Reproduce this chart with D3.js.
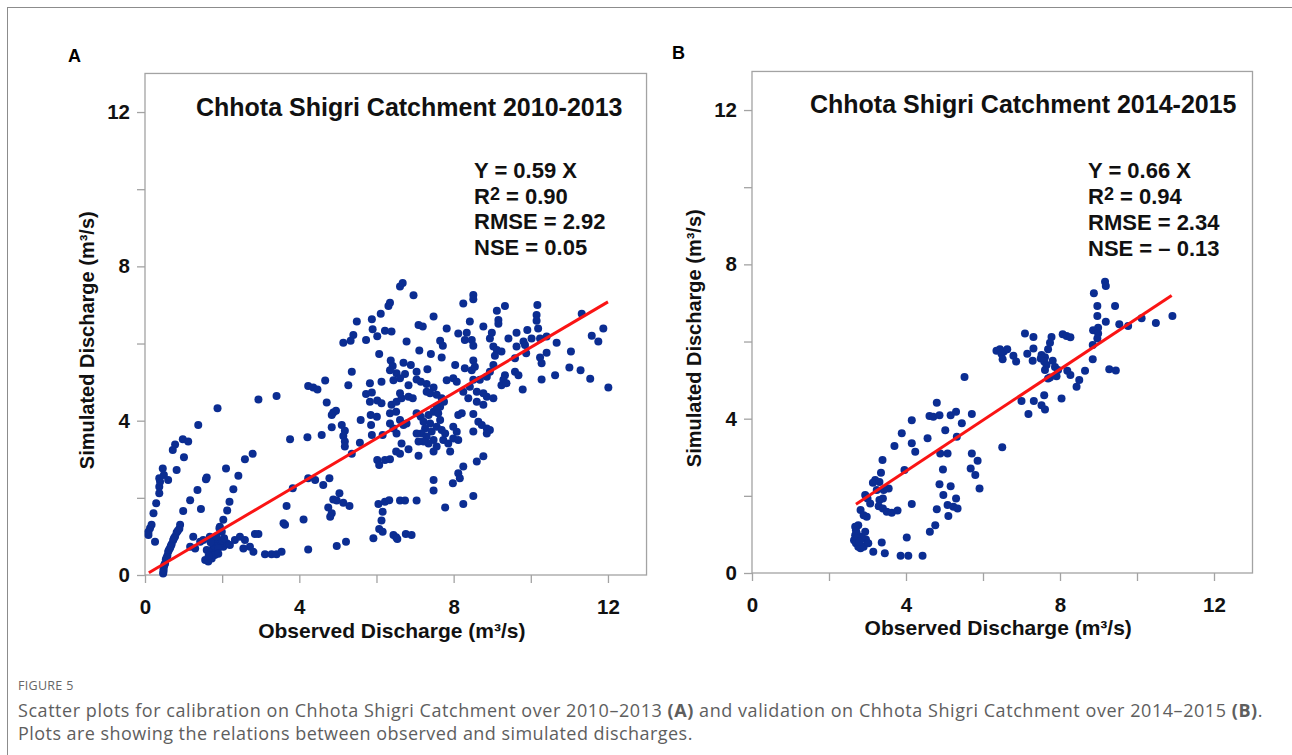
<!DOCTYPE html>
<html>
<head>
<meta charset="utf-8">
<script src="https://cdn.jsdelivr.net/npm/d3@7"></script>
<style>
  body { margin: 0; background: #fff; }
  svg { display: block; }
</style>
</head>
<body>
<svg id="fig" width="1292" height="755"></svg>
<script>
// Observed vs simulated discharge, m³/s  — [observed, simulated]
const calibrationPoints = [
  [0.09,1.04],[0.13,1.21],[0.17,1.30],[0.22,1.60],[0.29,1.86],[0.37,2.12],[0.37,2.29],[0.39,2.42],[0.37,2.51],[0.46,2.76],
  [0.49,2.59],[0.60,2.46],[0.82,2.72],[0.72,3.24],[0.78,3.38],[0.98,3.52],[1.12,3.46],[1.01,3.05],[1.38,3.89],[1.88,4.32],
  [2.94,4.55],[3.41,4.64],[3.76,3.52],[2.79,3.14],[2.59,3.00],[2.10,2.76],[2.42,2.57],[2.29,2.22],[2.19,1.90],[2.13,1.67],
  [2.03,1.43],[1.94,1.25],[0.26,0.86],[0.09,1.12],
  [0.48,0.09],[0.49,0.22],[0.52,0.30],[0.54,0.40],[0.58,0.50],[0.60,0.60],[0.65,0.70],[0.69,0.80],[0.73,0.90],[0.78,1.00],
  [0.82,1.10],[0.89,1.20],[0.91,1.30],[0.99,1.66],[1.17,1.94],[1.36,2.20],[1.58,2.48],[1.60,2.53],[1.45,1.71],[0.47,0.04],
  [0.48,0.15],[0.50,0.26],[0.56,0.45],[0.62,0.65],[0.67,0.75],[0.75,0.95],[0.85,1.15],
  [1.25,0.99],[1.51,0.91],[1.68,0.99],[1.86,0.91],[1.94,0.82],[1.77,0.73],[1.60,0.65],[1.73,0.60],[1.86,0.65],[2.03,0.73],
  [2.12,0.82],[2.20,0.78],[2.33,0.91],[2.46,0.99],[2.59,0.91],[2.72,0.73],[2.85,1.06],[2.94,1.06],[2.55,0.69],[2.81,0.60],
  [3.11,0.54],[3.28,0.54],[3.41,0.54],[3.54,0.60],[1.56,0.39],[1.64,0.35],[1.73,0.43],[1.81,0.52],[1.99,1.12],[1.93,1.21],
  [1.43,0.86],[1.17,0.73],[1.30,0.69],[1.80,0.75],[1.90,0.70],[2.00,0.90],[1.70,0.85],[1.85,1.00],[2.05,0.95],[1.65,0.50],
  [1.90,0.55],[3.67,1.79],[3.83,2.25],[3.63,1.30],[3.59,1.34],
  [6.35,7.06],[6.31,6.97],[6.11,6.77],[5.88,6.63],[5.49,6.57],[7.48,6.70],[7.09,6.48],[7.20,6.44],[7.82,6.39],[8.12,6.26],
  [5.90,6.37],[6.22,6.33],[6.39,6.31],[5.40,6.22],[5.33,6.07],[5.14,6.02],[5.73,6.09],[6.02,6.19],[6.78,6.05],[7.65,6.07],
  [7.72,5.94],[7.11,5.82],[7.41,5.73],[7.69,5.64],[6.07,5.73],[6.37,5.56],[6.42,5.42],[6.70,5.50],[6.89,5.44],[7.32,5.33],
  [7.04,5.27],[8.04,5.44],[6.35,5.31],[6.52,5.23],[6.74,5.21],[5.36,5.27],[4.67,5.04],[4.23,4.90],[4.36,4.86],[4.47,4.81],
  [5.27,4.92],[5.83,4.97],[6.13,5.01],[6.44,5.05],[6.61,5.10],[7.04,5.07],[7.15,5.01],[7.30,4.95],[7.48,4.86],[7.82,5.05],
  [7.99,5.10],[8.08,5.01],[5.73,4.69],[5.88,4.73],[6.02,4.52],[6.13,4.45],[5.83,4.49],[6.39,4.41],[6.52,4.49],[6.65,4.58],
  [6.83,4.62],[6.94,4.58],[6.61,4.71],[6.83,4.92],[7.30,4.75],[7.39,4.71],[7.56,4.67],[7.69,4.58],[7.75,4.49],[7.65,4.36],
  [4.71,4.47],[4.88,4.21],[4.95,4.26],[4.84,4.15],[5.59,4.02],[5.85,4.15],[6.01,4.10],[5.86,3.89],[5.10,3.89],[4.84,3.83],
  [5.18,3.74],[5.14,3.60],[5.18,3.46],[5.18,3.33],[5.57,3.43],[5.36,3.14],[4.21,3.57],[4.58,3.63],
  [7.04,4.19],[7.15,4.10],[7.22,3.97],[7.35,4.15],[7.48,4.23],[7.56,4.36],[7.60,4.19],[7.65,4.02],[7.39,3.93],[7.26,3.80],
  [7.17,3.67],[7.30,3.59],[7.43,3.72],[7.56,3.84],[7.69,3.76],[7.78,3.67],[7.48,3.50],[7.35,3.41],[7.22,3.46],[7.04,3.67],
  [7.09,3.46],[7.48,3.20],[7.56,3.33],[7.73,3.50],[7.86,3.41],[7.91,3.20],[7.99,3.84],[7.99,3.54],[8.08,3.71],[8.12,4.15],
  [6.35,3.93],[6.44,3.80],[6.52,3.67],[6.70,3.89],[6.78,3.93],[6.61,4.02],[6.35,4.19],[6.51,4.23],[5.88,3.63],[6.16,3.63],
  [6.51,3.20],[6.61,3.14],[6.83,3.26],[6.65,3.41],[7.09,3.09],[6.02,2.98],[6.07,2.85],[6.22,2.98],[6.35,3.00],
  [4.23,2.51],[4.41,2.46],[4.62,2.33],[4.78,2.51],[7.48,2.46],[7.48,2.19],[7.98,2.38],[8.12,2.64],[5.04,2.12],[4.88,1.96],
  [4.75,1.75],[4.97,1.93],[5.14,1.87],[5.30,1.79],[4.84,1.60],[4.80,1.51],[6.05,1.84],[6.22,1.90],[6.33,1.94],[6.61,1.93],
  [6.74,1.93],[7.04,1.93],[7.78,1.75],[6.16,1.64],[6.13,1.41],[6.07,1.19],[6.16,1.12],[6.44,1.04],[6.51,0.98],[6.54,0.93],
  [6.76,1.06],[6.91,1.04],[5.92,0.95],[4.11,1.44],[4.23,0.66],[4.97,0.75],[5.21,0.86],
  [6.61,7.48],[6.68,7.57],[6.96,7.25],
  [8.51,7.26],[8.51,7.15],[8.25,7.04],[9.33,6.97],[9.12,6.85],[10.17,7.00],[10.15,6.74],[10.15,6.59],[8.42,6.57],[9.16,6.61],
  [9.16,6.51],[8.77,6.44],[8.99,6.28],[8.94,6.13],[8.34,6.28],[8.29,6.09],[8.47,6.09],[8.51,5.94],[9.42,6.13],[9.63,6.28],
  [9.91,6.35],[10.19,6.39],[10.02,6.13],[10.24,6.13],[10.41,6.18],[9.81,6.05],[9.85,5.96],[9.63,5.92],[9.03,5.92],[9.12,5.83],
  [9.24,5.79],[9.07,5.68],[10.67,6.02],[10.41,5.76],[10.24,5.64],[10.28,5.49],[9.88,5.75],[9.59,5.62],[8.51,5.56],[8.29,5.36],
  [8.47,5.31],[8.55,5.40],[9.03,5.44],[8.94,5.27],[8.86,5.14],[8.68,5.06],[9.33,5.18],[9.29,5.06],[9.24,4.92],[9.37,4.97],
  [9.59,5.27],[9.68,5.18],[10.28,5.07],[10.63,5.18],[9.79,4.81],[8.42,4.88],[8.51,5.06],[8.25,4.75],[8.38,4.58],[8.60,4.49],
  [8.77,4.41],[8.60,4.75],[8.86,4.62],[9.03,4.58],[8.77,4.71],[8.21,4.19],[8.51,4.17],[8.51,3.72],[8.64,3.97],[8.73,3.89],
  [8.86,3.80],[8.94,3.76],[8.86,3.67],[8.12,3.50],[8.60,2.94],[8.77,3.08],[8.25,2.81],[8.16,2.51],[8.51,2.05],[8.25,1.84],
  [11.32,6.77],[11.88,6.39],[11.58,6.20],[11.75,6.05],[11.04,5.79],[11.00,5.38],[11.29,5.31],[11.54,5.09],[12.01,4.86]
];

const validationPoints = [
  [4.80,4.41],[4.61,4.07],[4.71,4.05],[4.87,4.09],[5.16,4.09],[5.30,4.18],[5.71,4.12],[5.45,3.88],[5.02,3.70],[5.32,3.53],
  [4.15,3.96],[3.89,3.62],[4.56,3.49],[3.70,3.29],[4.15,3.36],[4.24,3.14],[4.89,3.10],[5.08,3.10],[5.71,3.10],[5.86,2.91],
  [3.39,2.93],[3.96,2.67],[4.96,2.68],[5.68,2.71],[5.80,2.54],[5.91,2.19],[3.35,2.60],[3.20,2.41],[3.14,2.34],[3.31,2.36],
  [3.55,2.19],[3.42,2.15],[3.24,2.15],[4.87,2.30],[5.16,2.25],[4.97,2.02],[5.30,1.93],[5.08,1.76],[5.23,1.72],[5.34,1.67],
  [4.80,1.65],[5.10,1.48],[4.76,1.24],[4.62,1.07],[4.15,1.79],[2.94,2.02],[3.00,1.93],[3.07,1.80],[3.31,1.89],[3.40,1.93],
  [3.29,1.73],[3.40,1.67],[3.50,1.59],[3.63,1.56],[3.78,1.62],[2.82,1.63],[2.90,1.50],[2.98,1.46],[2.76,1.24],[2.70,1.11],
  [2.68,0.98],[2.65,0.85],[2.70,0.77],[2.76,0.68],[2.82,0.64],[2.90,0.68],[2.96,0.87],[3.02,0.77],[2.85,0.94],[2.94,1.07],
  [3.37,0.79],[3.15,0.55],[3.45,0.51],[4.02,0.92],[3.86,0.45],[4.06,0.45],[4.43,0.45],[6.50,3.26],[2.72,1.03],[2.73,0.90],
  [2.79,0.81],[2.68,1.20],[5.52,5.08],
  [9.17,7.55],[9.19,7.44],[8.88,7.25],[8.97,6.92],[9.43,6.92],[8.97,6.66],[9.19,6.51],[9.54,6.45],[9.77,6.40],[10.12,6.60],
  [10.49,6.48],[10.92,6.66],[8.99,6.36],[8.86,6.29],[8.99,6.21],[8.97,6.08],[8.85,5.91],[8.85,5.54],[9.28,5.28],[9.45,5.25],
  [7.09,6.21],[7.31,6.12],[7.78,6.12],[7.74,5.97],[7.69,5.80],[8.07,6.19],[8.17,6.14],[8.27,6.11],[6.35,5.76],[6.44,5.80],
  [6.54,5.74],[6.63,5.80],[6.48,5.68],[6.51,5.54],[6.79,5.63],[6.86,5.48],[7.15,5.68],[7.31,5.82],[7.29,5.50],[7.52,5.65],
  [7.50,5.56],[7.61,5.59],[7.59,5.48],[7.65,5.39],[7.61,5.26],[7.81,5.50],[7.87,5.34],[7.95,5.26],[7.91,5.10],[7.74,5.07],
  [7.69,5.04],[8.19,5.24],[8.27,5.13],[8.50,5.00],[8.43,4.83],[8.65,5.24],[8.04,4.52],[7.59,4.61],[7.32,4.46],[7.00,4.46],
  [7.52,4.35],[7.61,4.24],[7.18,4.12]
];

const tickValues = [0, 2, 4, 6, 8, 10, 12];
const labelledTicks = [0, 4, 8, 12];
const axisMax = 13;

const panelLetters = ["A", "B"];
const panelTitles = ["Chhota Shigri Catchment 2010-2013", "Chhota Shigri Catchment 2014-2015"];
const fitSlopes = [0.59, 0.66];
const fitRanges = [[0.1, 12], [2.7, 10.9]];
const r2Values = ["0.90", "0.94"];
const rmseValues = ["2.92", "2.34"];
const nseValues = ["0.05", "\u2013 0.13"];

const xTitle = "Observed Discharge (m\u00b3/s)";
const yTitle = "Simulated Discharge (m\u00b3/s)";

const FONT = "'Liberation Sans', Arial, Helvetica, sans-serif";
const DOT = "#0b2d92";
const FIT = "#fa1414";
const FRAME = "#a3a3a3";

const svg = d3.select("#fig");

// outer figure box
svg.append("rect")
  .attr("x", 7.5).attr("y", 7.5)
  .attr("width", 1400).attr("height", 900)
  .attr("fill", "none").attr("stroke", "#8c8c8c").attr("stroke-width", 1);

const layout = [
  { x0: 145, y0: 575, ux: 38.58, uy: 38.58, letter: [68, 62], title: [196, 116], stats: [474, 178], statGap: 25.6, yTitleX: 94, xTitleY: 638 },
  { x0: 752, y0: 573, ux: 38.50, uy: 38.58, letter: [672, 59], title: [810, 113], stats: [1088, 178], statGap: 26, yTitleX: 701, xTitleY: 635 }
];

const datasets = [calibrationPoints, validationPoints];

layout.forEach((L, i) => {
  const g = svg.append("g");
  const x = d3.scaleLinear().domain([0, axisMax]).range([L.x0, L.x0 + axisMax * L.ux]);
  const y = d3.scaleLinear().domain([0, axisMax]).range([L.y0, L.y0 - axisMax * L.uy]);

  // axes
  const fmt = d => labelledTicks.includes(d) ? String(d) : "";
  const ax = g.append("g").attr("transform", `translate(0,${L.y0})`)
    .call(d3.axisBottom(x).tickValues(tickValues).tickSize(8).tickPadding(16).tickFormat(fmt));
  const ay = g.append("g").attr("transform", `translate(${L.x0},0)`)
    .call(d3.axisLeft(y).tickValues(tickValues).tickSize(8).tickPadding(7).tickFormat(fmt));
  [ax, ay].forEach(a => {
    a.select(".domain").remove();
    a.selectAll(".tick line").attr("stroke", FRAME).attr("stroke-width", 1.3);
    a.selectAll(".tick text").attr("fill", "#111").attr("font-family", FONT)
      .attr("font-weight", "bold").attr("font-size", 20.5);
  });

  // plot frame
  g.append("rect")
    .attr("x", x(0)).attr("y", y(axisMax))
    .attr("width", x(axisMax) - x(0)).attr("height", y(0) - y(axisMax))
    .attr("fill", "none").attr("stroke", FRAME).attr("stroke-width", 1.3);

  // points
  g.append("g").selectAll("circle").data(datasets[i]).join("circle")
    .attr("cx", d => x(d[0])).attr("cy", d => y(d[1])).attr("r", 4)
    .attr("fill", DOT);

  // regression line through the origin
  const fit = fitRanges[i].map(v => [v, fitSlopes[i] * v]);
  g.append("path")
    .attr("d", d3.line().x(d => x(d[0])).y(d => y(d[1]))(fit))
    .attr("stroke", FIT).attr("stroke-width", 3).attr("fill", "none");

  // panel letter
  g.append("text").attr("x", L.letter[0]).attr("y", L.letter[1])
    .attr("font-family", FONT).attr("font-weight", "bold").attr("font-size", 18)
    .text(panelLetters[i]);

  // title
  g.append("text").attr("x", L.title[0]).attr("y", L.title[1])
    .attr("font-family", FONT).attr("font-weight", "bold").attr("font-size", 25)
    .attr("fill", "#111").text(panelTitles[i]);

  // statistics block
  const st = g.append("g").attr("font-family", FONT).attr("font-weight", "bold")
    .attr("font-size", 22).attr("fill", "#111");
  st.append("text").attr("x", L.stats[0]).attr("y", L.stats[1])
    .text(`Y = ${fitSlopes[i].toFixed(2)} X`);
  const r2 = st.append("text").attr("x", L.stats[0]).attr("y", L.stats[1] + L.statGap);
  r2.append("tspan").text("R");
  r2.append("tspan").attr("dy", -4).attr("font-size", 18).text("2");
  r2.append("tspan").attr("dy", 4).text(` = ${r2Values[i]}`);
  st.append("text").attr("x", L.stats[0]).attr("y", L.stats[1] + 2 * L.statGap)
    .text(`RMSE = ${rmseValues[i]}`);
  st.append("text").attr("x", L.stats[0]).attr("y", L.stats[1] + 3 * L.statGap)
    .text(`NSE = ${nseValues[i]}`);

  // axis titles
  g.append("text")
    .attr("x", (x(0) + x(axisMax)) / 2 - 4).attr("y", L.xTitleY)
    .attr("text-anchor", "middle")
    .attr("font-family", FONT).attr("font-weight", "bold").attr("font-size", 21)
    .attr("fill", "#111").text(xTitle);
  g.append("text")
    .attr("transform", `translate(${L.yTitleX},${(y(0) + y(axisMax)) / 2 + 16}) rotate(-90)`)
    .attr("text-anchor", "middle")
    .attr("font-family", FONT).attr("font-weight", "bold").attr("font-size", 20)
    .attr("fill", "#111").text(yTitle);
});

// caption
const CAP = "'Open Sans', 'Noto Sans', sans-serif";
svg.append("text").attr("x", 18).attr("y", 690)
  .attr("font-family", CAP).attr("font-size", 12.5).attr("fill", "#666")
  .attr("letter-spacing", 0.3).text("FIGURE 5");
const cap1 = svg.append("text").attr("x", 18).attr("y", 717)
  .attr("font-family", CAP).attr("font-size", 18).attr("letter-spacing", 0.55).attr("fill", "#5e5e5e");
cap1.append("tspan").text("Scatter plots for calibration on Chhota Shigri Catchment over 2010\u20132013 ");
cap1.append("tspan").attr("font-weight", "bold").text("(A)");
cap1.append("tspan").text(" and validation on Chhota Shigri Catchment over 2014\u20132015 ");
cap1.append("tspan").attr("font-weight", "bold").text("(B)");
cap1.append("tspan").text(".");
svg.append("text").attr("x", 18).attr("y", 740)
  .attr("font-family", CAP).attr("font-size", 18).attr("letter-spacing", 0.45).attr("fill", "#5e5e5e")
  .text("Plots are showing the relations between observed and simulated discharges.");
</script>
</body>
</html>
